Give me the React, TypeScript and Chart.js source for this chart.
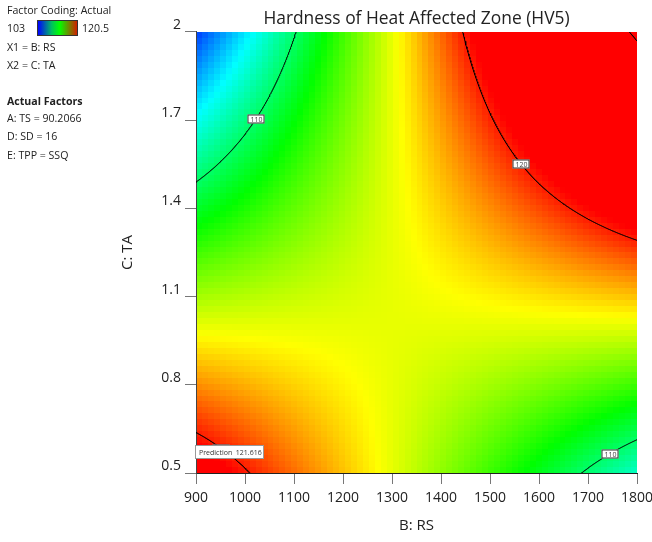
import React, { useEffect, useRef } from "react";
import { Chart, registerables } from "chart.js";

Chart.register(...registerables);

// Factor ranges in actual units
const rsRange = [900, 1800];
const taRange = [0.5, 2];

// Axis tick values
const rsTicks = [900, 1000, 1100, 1200, 1300, 1400, 1500, 1600, 1700, 1800];
const taTicks = [0.5, 0.8, 1.1, 1.4, 1.7, 2];

// Fitted 2FI model in coded units: Intercept, B, C, BC
const modelCoefs = [116.1, 3.29, 1.13, 9.936];

// Colour scale limits and contour levels (HV5)
const colourRange = [103, 120.5];
const contourLevels = [110, 120, 130];

// Contour label placements (level, RS position along the line)
const labelLevels = [110, 120, 110, 120];
const labelRS = [1022, 1563, 1745, 952];

// Flagged prediction point
const predRS = 900;
const predTA = 0.5;
const predValue = 121.616;

// Legend panel texts
const legendHeader = "Factor Coding: Actual";
const axisFactorLines = ["X1 = B: RS", "X2 = C: TA"];
const actualFactorLines = ["A: TS = 90.2066", "D: SD = 16", "E: TPP = SSQ"];

const FONT = "'Open Sans', 'Noto Sans', sans-serif";
const GRID_CELLS = 74;

const colourStops = [
  [0, 0, 255],
  [0, 255, 255],
  [0, 255, 0],
  [255, 255, 0],
  [255, 0, 0],
];

function toCoded(v: number, r: number[]) {
  return (2 * v - r[0] - r[1]) / (r[1] - r[0]);
}
function toActual(c: number, r: number[]) {
  return (r[0] + r[1]) / 2 + (c * (r[1] - r[0])) / 2;
}
function hv5(rs: number, ta: number) {
  const b = toCoded(rs, rsRange);
  const c = toCoded(ta, taRange);
  return modelCoefs[0] + modelCoefs[1] * b + modelCoefs[2] * c + modelCoefs[3] * b * c;
}
// TA on a contour of the given level at a given RS (coded solve, linear in C)
function contourTA(level: number, rs: number) {
  const b = toCoded(rs, rsRange);
  const den = modelCoefs[2] + modelCoefs[3] * b;
  if (Math.abs(den) < 1e-6) return NaN;
  const c = (level - modelCoefs[0] - modelCoefs[1] * b) / den;
  return toActual(c, taRange);
}
function colourFor(v: number) {
  let t = (v - colourRange[0]) / (colourRange[1] - colourRange[0]);
  t = Math.max(0, Math.min(1, t));
  const s = t * (colourStops.length - 1);
  const k = Math.min(Math.floor(s), colourStops.length - 2);
  const f = s - k;
  const a = colourStops[k];
  const b = colourStops[k + 1];
  const ch = (i: number) => Math.round(a[i] + (b[i] - a[i]) * f);
  return `rgb(${ch(0)},${ch(1)},${ch(2)})`;
}

// Contour polylines, split where the line leaves the region
function contourSegments() {
  const segs: { level: number; pts: { x: number; y: number }[] }[] = [];
  const steps = 900;
  const lo = taRange[0] - 0.3;
  const hi = taRange[1] + 0.3;
  contourLevels.forEach((level) => {
    let cur: { x: number; y: number }[] = [];
    let prevDenSign = 0;
    for (let i = 0; i <= steps; i++) {
      const rs = rsRange[0] + ((rsRange[1] - rsRange[0]) * i) / steps;
      const den = modelCoefs[2] + modelCoefs[3] * toCoded(rs, rsRange);
      const sign = Math.sign(den);
      const ta = contourTA(level, rs);
      const ok = isFinite(ta) && ta >= lo && ta <= hi && (prevDenSign === 0 || sign === prevDenSign);
      if (ok) {
        cur.push({ x: rs, y: ta });
      } else {
        if (cur.length > 1) segs.push({ level, pts: cur });
        cur = [];
        if (isFinite(ta) && ta >= lo && ta <= hi) cur.push({ x: rs, y: ta });
      }
      prevDenSign = sign;
    }
    if (cur.length > 1) segs.push({ level, pts: cur });
  });
  return segs;
}

const surfacePlugin = {
  id: "surface",
  beforeDraw(chart: any) {
    const { ctx } = chart;
    const x = chart.scales.x;
    const y = chart.scales.y;
    const dRs = (rsRange[1] - rsRange[0]) / GRID_CELLS;
    const dTa = (taRange[1] - taRange[0]) / GRID_CELLS;
    ctx.save();
    ctx.fillStyle = "#fff";
    ctx.fillRect(0, 0, chart.width, chart.height);
    for (let i = 0; i < GRID_CELLS; i++) {
      const rs0 = rsRange[0] + i * dRs;
      const px0 = Math.round(x.getPixelForValue(rs0));
      const px1 = Math.round(x.getPixelForValue(rs0 + dRs));
      for (let j = 0; j < GRID_CELLS; j++) {
        const ta0 = taRange[0] + j * dTa;
        const py0 = Math.round(y.getPixelForValue(ta0 + dTa));
        const py1 = Math.round(y.getPixelForValue(ta0));
        ctx.fillStyle = colourFor(hv5(rs0 + dRs / 2, ta0 + dTa / 2));
        ctx.fillRect(px0, py0, px1 - px0, py1 - py0);
      }
    }
    ctx.restore();
  },
  afterDatasetsDraw(chart: any) {
    const { ctx } = chart;
    const x = chart.scales.x;
    const y = chart.scales.y;
    ctx.save();
    ctx.font = `7px ${FONT}`;
    ctx.textAlign = "center";
    ctx.textBaseline = "middle";
    labelLevels.forEach((level, i) => {
      const rs = labelRS[i];
      const ta = contourTA(level, rs);
      const cx = Math.round(x.getPixelForValue(rs));
      const cy = Math.round(y.getPixelForValue(ta));
      const w = 17;
      const h = 9;
      ctx.fillStyle = "#fff";
      ctx.fillRect(cx - w / 2, cy - h / 2, w, h);
      ctx.strokeStyle = "#333";
      ctx.lineWidth = 1;
      ctx.strokeRect(cx - w / 2 + 0.5, cy - h / 2 + 0.5, w - 1, h - 1);
      ctx.fillStyle = "#444";
      ctx.fillText(String(level), cx + 0.5, cy + 0.5);
    });
    ctx.restore();
  },
  afterDraw(chart: any) {
    const { ctx } = chart;
    const px = chart.scales.x.getPixelForValue(predRS);
    const py = chart.scales.y.getPixelForValue(predTA);
    const left = Math.round(px) - 0.5;
    const top = Math.round(py) - 27.5;
    ctx.save();
    ctx.fillStyle = "#fff";
    ctx.fillRect(left, top, 68, 13);
    ctx.strokeStyle = "#999";
    ctx.lineWidth = 1;
    ctx.strokeRect(left, top, 68, 13);
    ctx.fillStyle = "#333";
    ctx.font = `7px ${FONT}`;
    ctx.textBaseline = "middle";
    ctx.textAlign = "left";
    ctx.fillText(`Prediction  ${predValue}`, left + 3.5, top + 7);
    ctx.restore();
  },
};

export default function App() {
  const canvasRef = useRef<HTMLCanvasElement>(null);

  useEffect(() => {
    const canvas = canvasRef.current;
    if (!canvas) return;
    const segs = contourSegments();
    const chart = new Chart(canvas, {
      type: "scatter",
      data: {
        datasets: segs.map((s) => ({
          label: `HV5 = ${s.level}`,
          data: s.pts,
          showLine: true,
          borderColor: "#000",
          borderWidth: 1,
          pointRadius: 0,
          fill: false,
        })),
      },
      options: {
        animation: false,
        responsive: false,
        devicePixelRatio: 1,
        events: [],
        layout: { padding: { left: 115, right: 15, top: 0, bottom: 0 } },
        plugins: {
          legend: { display: false },
          tooltip: { enabled: false },
          title: {
            display: true,
            text: "Hardness of Heat Affected Zone (HV5)",
            fullSize: false,
            color: "#222",
            font: { family: FONT, size: 17.4, weight: "normal", lineHeight: 1.2 },
            padding: { top: 8.6, bottom: 2.5 },
          },
        },
        scales: {
          x: {
            type: "linear",
            min: rsRange[0],
            max: rsRange[1],
            afterBuildTicks: (s: any) => {
              s.ticks = rsTicks.map((v) => ({ value: v }));
            },
            afterFit: (s: any) => {
              s.height = 69;
              s.paddingLeft = 0;
              s.paddingRight = 0;
            },
            grid: {
              drawOnChartArea: false,
              drawTicks: true,
              tickLength: 11,
              tickColor: "#777",
            },
            border: { display: true, color: "#222", width: 1 },
            ticks: {
              autoSkip: false,
              maxRotation: 0,
              padding: 6,
              color: "#222",
              font: { family: FONT, size: 14 },
              callback: (v: any) => String(v),
            },
            title: {
              display: true,
              text: "B: RS",
              color: "#222",
              font: { family: FONT, size: 15 },
              padding: { top: 4, bottom: 7 },
            },
          },
          y: {
            type: "linear",
            min: taRange[0],
            max: taRange[1],
            afterBuildTicks: (s: any) => {
              s.ticks = taTicks.map((v) => ({ value: v }));
            },
            afterFit: (s: any) => {
              s.width = 81;
              s.paddingTop = 0;
              s.paddingBottom = 0;
            },
            grid: {
              drawOnChartArea: false,
              drawTicks: true,
              tickLength: 11,
              tickColor: "#777",
            },
            border: { display: true, color: "#444", width: 1 },
            ticks: {
              autoSkip: false,
              padding: 4,
              labelOffset: -7,
              color: "#222",
              font: { family: FONT, size: 14 },
              callback: (v: any) => String(v),
            },
            title: {
              display: true,
              text: "C: TA",
              color: "#222",
              font: { family: FONT, size: 15 },
              padding: { top: 4, bottom: 4 },
            },
          },
        },
      },
      plugins: [surfacePlugin],
    } as any);
    return () => chart.destroy();
  }, []);

  const textStyle = (top: number, bold = false): React.CSSProperties => ({
    position: "absolute",
    left: 7,
    top,
    fontFamily: FONT,
    fontSize: 10.6,
    lineHeight: "13px",
    fontWeight: bold ? 700 : 400,
    color: "#222",
    whiteSpace: "nowrap",
  });

  return (
    <div style={{ position: "absolute", left: 0, top: 0, width: 652, height: 542, background: "#fff" }}>
      <canvas ref={canvasRef} width={652} height={542} style={{ position: "absolute", left: 0, top: 0 }} />
      <div style={textStyle(3.5)}>{legendHeader}</div>
      <div style={textStyle(21.5)}>{colourRange[0]}</div>
      <div
        style={{
          position: "absolute",
          left: 37,
          top: 20,
          width: 39,
          height: 14,
          border: "1px solid #333",
          background: "linear-gradient(to right, #0000ff, #00c060 35%, #00ff00 55%, #d02000 100%)",
        }}
      />
      <div style={{ ...textStyle(21.5), left: 82 }}>{colourRange[1]}</div>
      {axisFactorLines.map((t, i) => (
        <div key={t} style={textStyle(40.5 + i * 18)}>{t}</div>
      ))}
      <div style={textStyle(94.5, true)}>Actual Factors</div>
      {actualFactorLines.map((t, i) => (
        <div key={t} style={textStyle(112 + i * 18.3)}>{t}</div>
      ))}
    </div>
  );
}
